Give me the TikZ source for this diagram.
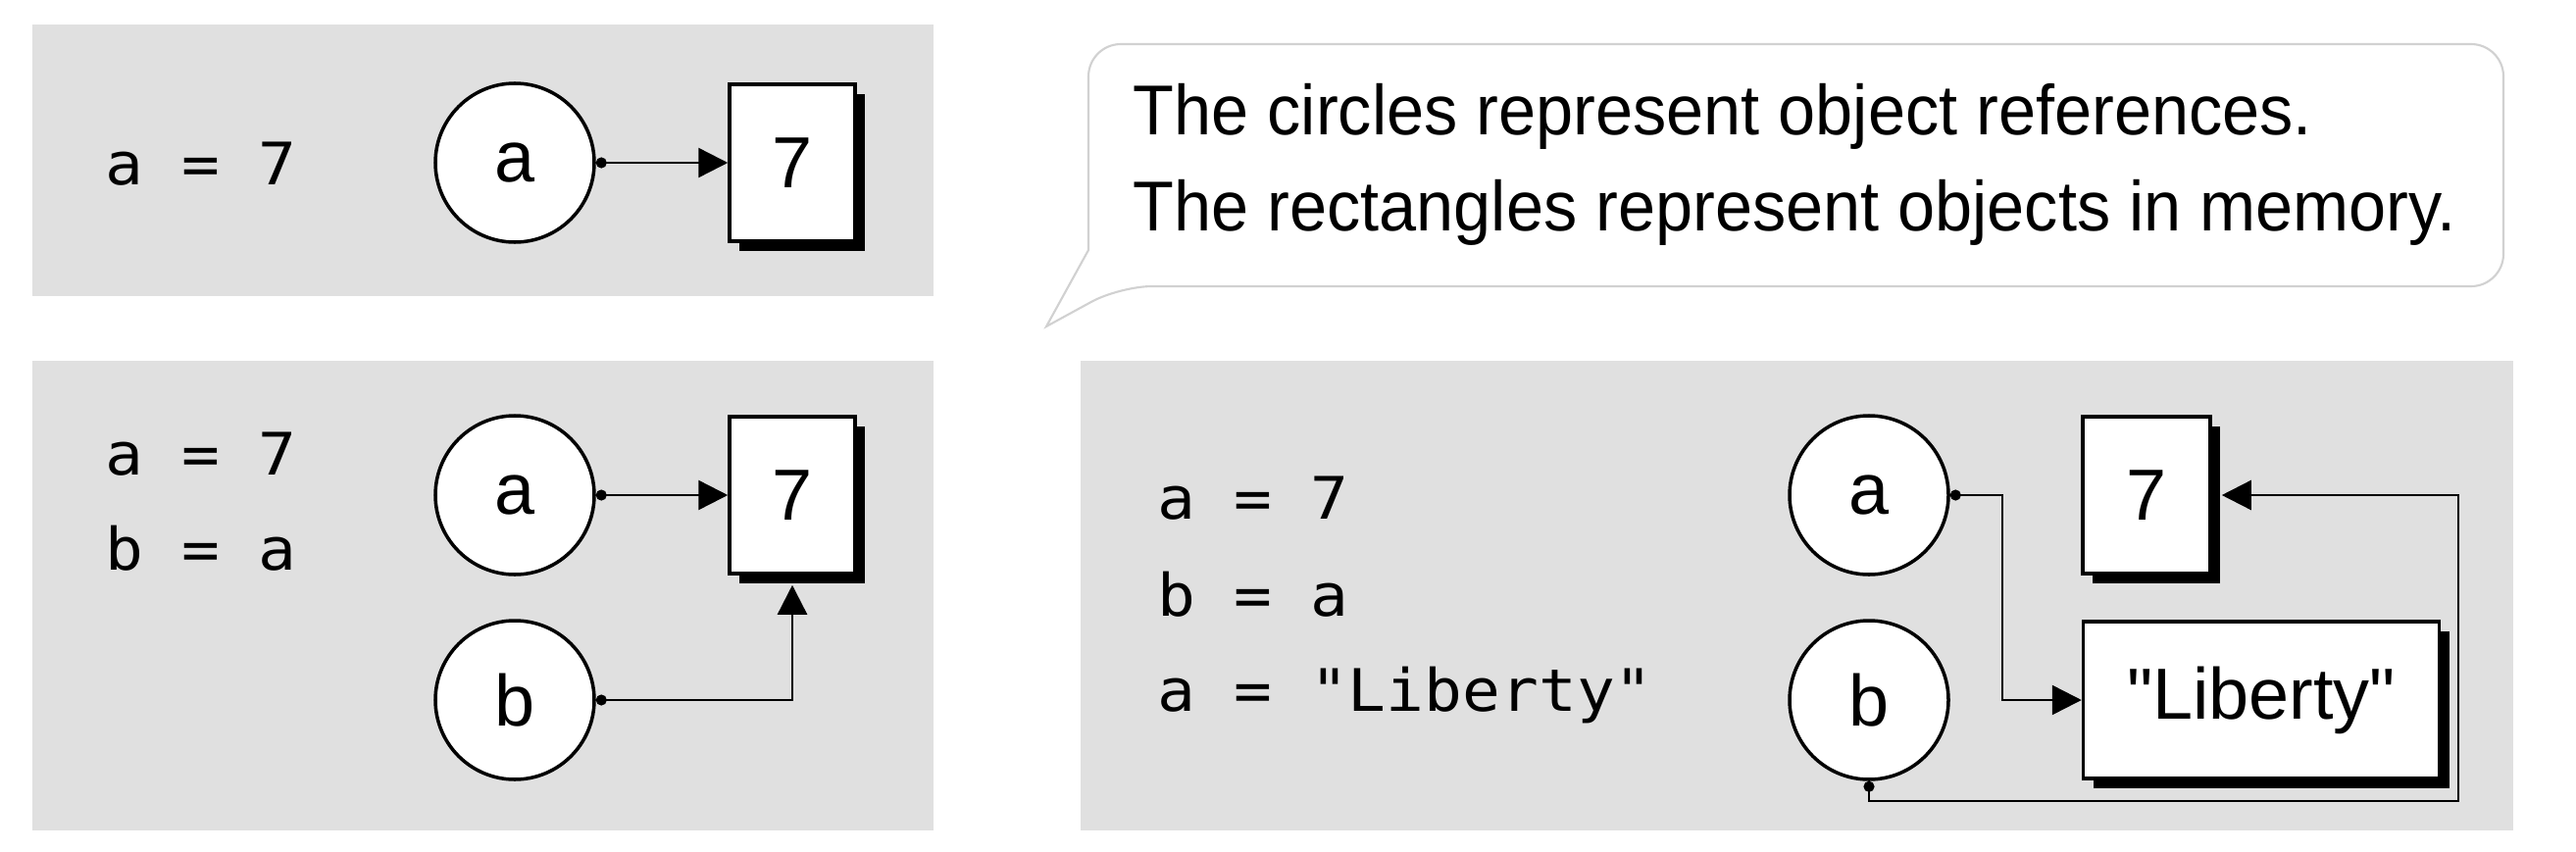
\documentclass[tikz,border=0pt]{standalone}
\usepackage{fontspec}
\setmainfont[Ligatures=TeXOff]{Liberation Sans}
\newfontfamily\codefont[FakeStretch=1.08]{DejaVu Sans Mono}
\newfontfamily\notefont[FakeStretch=0.95]{Liberation Sans}
\usetikzlibrary{arrows.meta,shadows}

\begin{document}
\begin{tikzpicture}[
    ref/.style={circle, draw, fill=white, line width=1pt, minimum size=1.62cm, inner sep=0pt, font=\fontsize{21pt}{25pt}\selectfont},
    obj/.style={rectangle, draw, fill=white, line width=1pt, minimum height=1.6cm, inner sep=0pt, font=\fontsize{21pt}{25pt}\selectfont,
        drop shadow={shadow xshift=1mm, shadow yshift=-1mm, fill=black, opacity=1}},
    code/.style={anchor=base west, inner sep=0pt, font=\codefont\fontsize{17pt}{20pt}\selectfont},
    note/.style={anchor=base west, inner sep=0pt, font=\notefont\fontsize{20.5pt}{24pt}\selectfont},
    link/.style={line width=0.7pt, {Circle[length=1.1mm]}-{Triangle[length=3mm, width=3mm]}}]

    \useasboundingbox (0,0) rectangle (26.27,8.68);

    % grey panels
    \fill[black!12] (0.33,5.66) rectangle (9.52,8.43);
    \fill[black!12] (0.33,0.21) rectangle (9.52,5.00);
    \fill[black!12] (11.02,0.21) rectangle (25.63,5.00);

    % speech bubble
    \draw[black!18, fill=white, line width=0.6pt, rounded corners=3.3mm] (11.10,6.13) -- (11.10,8.23) -- (25.53,8.23) -- (25.53,5.76) -- (11.42,5.76) [sharp corners] -- (10.67,5.35) -- cycle;
    \node[note] (note1) at (11.55,7.31) {The circles represent object references.};
    \node[note] (note2) at (11.55,6.33) {The rectangles represent objects in memory.};

    % a = 7
    \node[code] (c1) at (1.07,6.80) {a = 7};
    \node[ref] (a1) at (5.25,7.02) {a};
    \node[obj, minimum width=1.28cm] (box1) at (8.08,7.02) {7};
    \draw[link] (a1) -- (box1);

    % b = a
    \node[code] (c2a) at (1.07,3.84) {a = 7};
    \node[code] (c2b) at (1.07,2.87) {b = a};
    \node[ref] (a2) at (5.25,3.63) {a};
    \node[ref] (b2) at (5.25,1.54) {b};
    \node[obj, minimum width=1.28cm] (box2) at (8.08,3.63) {7};
    \draw[link] (a2) -- (box2);
    \draw[link] (b2) -| ([yshift=-1mm]box2.south);

    % a = "Liberty"
    \node[code] (c3a) at (11.80,3.39) {a = 7};
    \node[code] (c3b) at (11.80,2.40) {b = a};
    \node[code] (c3c) at (11.80,1.43) {a = "Liberty"};
    \node[ref] (a3) at (19.06,3.63) {a};
    \node[ref] (b3) at (19.06,1.54) {b};
    \node[obj, minimum width=1.30cm] (box3) at (21.89,3.63) {7};
    \node[obj, minimum width=3.63cm] (lib3) at (23.06,1.54) {"Liberty"};
    \coordinate (turnB) at (25.07,0.51);
    \draw[link] (a3.east) -- ++(0.53,0) |- (lib3.west);
    \draw[link] (b3.south) |- (turnB) |- ([xshift=1mm]box3.east);
\end{tikzpicture}
\end{document}
